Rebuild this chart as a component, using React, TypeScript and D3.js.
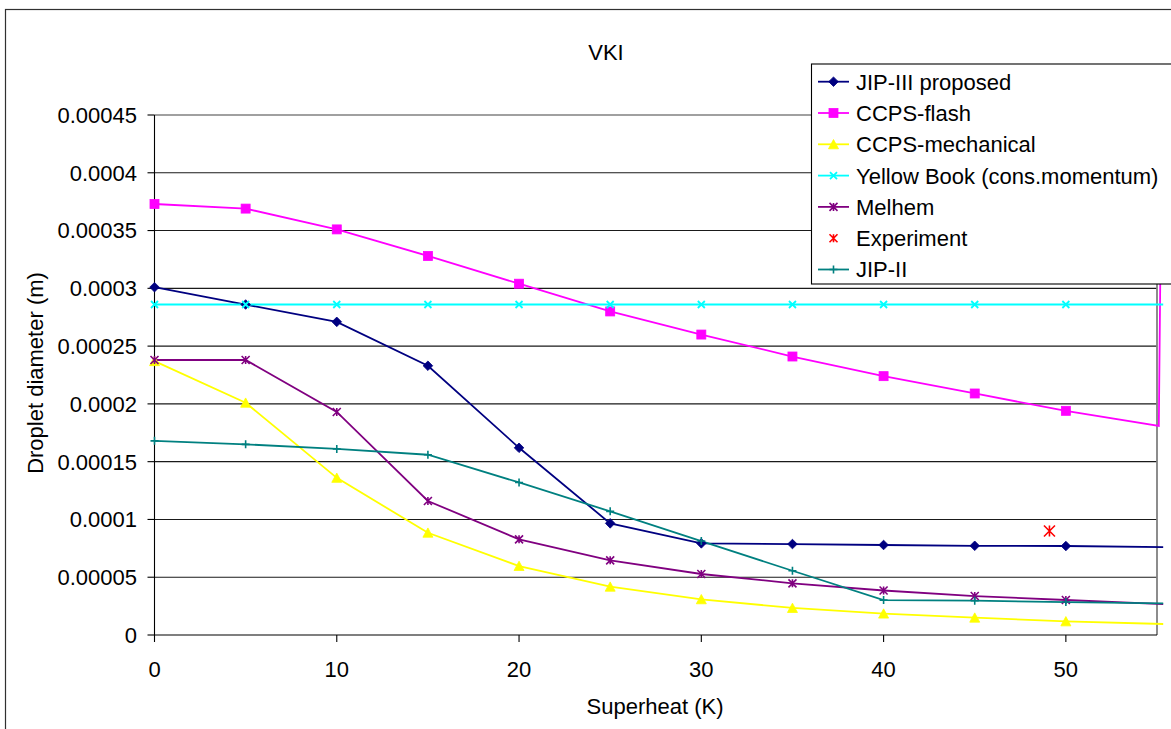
import React from "react";
import * as d3 from "d3";

// Superheat values (K) at which each model was evaluated
const superheat = [0, 5, 10, 15, 20, 25, 30, 35, 40, 45, 50];

// Droplet diameter (m) per model
const jip3Proposed = [0.000301, 0.000286, 0.000271, 0.000233, 0.000162, 0.0000966, 0.0000793, 0.0000787, 0.0000779, 0.0000772, 0.000077];
const ccpsFlash = [0.000373, 0.000369, 0.000351, 0.000328, 0.000304, 0.00028, 0.00026, 0.000241, 0.000224, 0.000209, 0.000194];
const ccpsMechanical = [0.000237, 0.000201, 0.000136, 0.0000885, 0.0000597, 0.0000418, 0.0000309, 0.0000234, 0.0000185, 0.000015, 0.0000118];
const yellowBook = [0.000286, 0.000286, 0.000286, 0.000286, 0.000286, 0.000286, 0.000286, 0.000286, 0.000286, 0.000286, 0.000286];
const melhem = [0.000238, 0.000238, 0.000193, 0.000116, 0.0000828, 0.0000646, 0.0000528, 0.0000447, 0.0000385, 0.0000337, 0.0000303];
const jip2 = [0.000168, 0.000165, 0.000161, 0.000156, 0.000132, 0.000107, 0.0000813, 0.0000556, 0.0000302, 0.0000297, 0.0000285];

// Points past the end of the axis (beyond 55 K)
const tailX = [55.35];
const jip3Tail = [0.0000761];
const ccpsMechTail = [0.0000095];
const yellowBookTail = [0.000286];
const melhemTail = [0.0000268];
const jip2Tail = [0.0000274];
const ccpsFlashTailX = [55.1, 55.3];
const ccpsFlashTail = [0.000181, 0.0005];

// Single measured point
const experimentX = [49.1];
const experimentY = [0.00009];

const yTicks = [0, 0.00005, 0.0001, 0.00015, 0.0002, 0.00025, 0.0003, 0.00035, 0.0004, 0.00045];
const yTickLabels = ["0", "0.00005", "0.0001", "0.00015", "0.0002", "0.00025", "0.0003", "0.00035", "0.0004", "0.00045"];
const xTicks = [0, 10, 20, 30, 40, 50];

type Marker = "diamond" | "square" | "triangle" | "x" | "asterisk" | "plus" | "none";

interface Series {
  name: string;
  color: string;
  marker: Marker;
  xs: number[];
  ys: number[];
  line: boolean;
}

const series: Series[] = [
  { name: "JIP-III proposed", color: "#000080", marker: "diamond", xs: [...superheat, ...tailX], ys: [...jip3Proposed, ...jip3Tail], line: true },
  { name: "CCPS-flash", color: "#FF00FF", marker: "square", xs: [...superheat, ...ccpsFlashTailX], ys: [...ccpsFlash, ...ccpsFlashTail], line: true },
  { name: "CCPS-mechanical", color: "#FFFF00", marker: "triangle", xs: [...superheat, ...tailX], ys: [...ccpsMechanical, ...ccpsMechTail], line: true },
  { name: "Yellow Book (cons.momentum)", color: "#00FFFF", marker: "x", xs: [...superheat, ...tailX], ys: [...yellowBook, ...yellowBookTail], line: true },
  { name: "Melhem", color: "#800080", marker: "asterisk", xs: [...superheat, ...tailX], ys: [...melhem, ...melhemTail], line: true },
  { name: "Experiment", color: "#FF0000", marker: "asterisk", xs: experimentX, ys: experimentY, line: false },
  { name: "JIP-II", color: "#008080", marker: "plus", xs: [...superheat, ...tailX], ys: [...jip2, ...jip2Tail], line: true },
];

const FONT = "'Liberation Sans', Arial, sans-serif";
const FS = 22;

const W = 1171;
const H = 729;
const plot = { left: 154.5, right: 1157, top: 115, bottom: 635 };
const X_MAX = 55;

function MarkerGlyph({ type, color, x, y, big }: { type: Marker; color: string; x: number; y: number; big?: boolean }) {
  const t = `translate(${x},${y})`;
  switch (type) {
    case "diamond":
      return <path transform={t} d="M0,-4.8L4.8,0L0,4.8L-4.8,0Z" fill={color} stroke={color} strokeWidth={0.8} />;
    case "square":
      return <rect transform={t} x={-4.5} y={-4.5} width={9} height={9} fill={color} stroke={color} strokeWidth={0.8} />;
    case "triangle":
      return <path transform={t} d="M0,-4.8L5,4.5L-5,4.5Z" fill={color} stroke={color} strokeWidth={0.8} />;
    case "x":
      return <path transform={t} d="M-3.5,-3.5L3.5,3.5M-3.5,3.5L3.5,-3.5" stroke={color} strokeWidth={1.8} fill="none" />;
    case "plus":
      return <path transform={t} d="M-4,0L4,0M0,-4L0,4" stroke={color} strokeWidth={1.6} fill="none" />;
    case "asterisk": {
      const r = big ? 5.5 : 4;
      return (
        <path
          transform={t}
          d={`M${-r},${-r}L${r},${r}M${-r},${r}L${r},${-r}M0,${-r}L0,${r}`}
          stroke={color}
          strokeWidth={1.6}
          fill="none"
        />
      );
    }
    default:
      return null;
  }
}

export default function App() {
  const x = d3.scaleLinear().domain([0, X_MAX]).range([plot.left, plot.right]);
  const y = d3.scaleLinear().domain([0, 0.00045]).range([plot.bottom, plot.top]);

  const lineGen = d3
    .line<[number, number]>()
    .x((d) => x(d[0]))
    .y((d) => y(d[1]));

  const legend = { x: 811.5, y: 64, rowH: 31.3, firstRow: 81.7 };

  return (
    <svg
      width={W}
      height={H}
      style={{ position: "absolute", left: 0, top: 0, background: "#fff" }}
      fontFamily={FONT}
    >
      <defs>
        <clipPath id="plotClip">
          <rect x={plot.left - 6} y={plot.top} width={1163.5 - plot.left + 6} height={plot.bottom - plot.top + 6} />
        </clipPath>
      </defs>

      {/* chart frame */}
      <rect x={5.5} y={9.5} width={1300} height={900} fill="#fff" stroke="#303030" strokeWidth={1.2} />

      {/* title */}
      <text x={606} y={60} textAnchor="middle" fontSize={FS} fill="#000">
        VKI
      </text>

      {/* horizontal gridlines */}
      {yTicks.slice(1).map((v) => (
        <line
          key={`g${v}`}
          x1={plot.left}
          x2={plot.right}
          y1={y(v)}
          y2={y(v)}
          stroke={v === 0.00045 ? "#808080" : "#1a1a1a"}
          strokeWidth={v === 0.00045 ? 1.6 : 1.1}
        />
      ))}

      {/* plot-area right border */}
      <line x1={plot.right} x2={plot.right} y1={plot.top} y2={plot.bottom} stroke="#808080" strokeWidth={1.8} />

      {/* y axis */}
      <line x1={plot.left} x2={plot.left} y1={plot.top} y2={plot.bottom} stroke="#000" strokeWidth={1.1} />
      {yTicks.map((v, i) => (
        <g key={`yt${v}`}>
          <line x1={plot.left - 7} x2={plot.left} y1={y(v)} y2={y(v)} stroke="#000" strokeWidth={1.1} />
          <text x={137} y={y(v)} dy="0.36em" textAnchor="end" fontSize={FS} fill="#000">
            {yTickLabels[i]}
          </text>
        </g>
      ))}

      {/* x axis */}
      <line x1={plot.left} x2={plot.right} y1={plot.bottom} y2={plot.bottom} stroke="#000" strokeWidth={1.1} />
      {xTicks.map((v) => (
        <g key={`xt${v}`}>
          <line x1={x(v)} x2={x(v)} y1={plot.bottom} y2={plot.bottom + 7} stroke="#000" strokeWidth={1.1} />
          <text x={x(v)} y={677} textAnchor="middle" fontSize={FS} fill="#000">
            {v}
          </text>
        </g>
      ))}

      {/* axis titles */}
      <text x={655} y={714} textAnchor="middle" fontSize={FS} fill="#000">
        Superheat (K)
      </text>
      <text transform="translate(42.5,373) rotate(-90)" textAnchor="middle" fontSize={FS} fill="#000">
        Droplet diameter (m)
      </text>

      {/* series lines */}
      <g clipPath="url(#plotClip)">
        {series
          .filter((s) => s.line)
          .map((s) => (
            <path
              key={`l${s.name}`}
              d={lineGen(s.xs.map((xv, i) => [xv, s.ys[i]] as [number, number])) || ""}
              fill="none"
              stroke={s.color}
              strokeWidth={s.marker === "x" ? 2.2 : 1.8}
            />
          ))}
      </g>

      {/* series markers (only within the axis range) */}
      {series.map((s) =>
        s.xs.map((xv, i) =>
          xv <= X_MAX ? (
            <MarkerGlyph key={`m${s.name}${i}`} type={s.marker} color={s.color} x={x(xv)} y={y(s.ys[i])} big={!s.line} />
          ) : null
        )
      )}

      {/* legend */}
      <rect x={legend.x} y={legend.y} width={400} height={220} fill="#fff" stroke="#000" strokeWidth={1.1} />
      {series.map((s, i) => {
        const cy = legend.firstRow + i * legend.rowH;
        return (
          <g key={`lg${s.name}`}>
            {s.line && <line x1={818} x2={849} y1={cy} y2={cy} stroke={s.color} strokeWidth={1.8} />}
            <MarkerGlyph type={s.marker} color={s.color} x={833.5} y={cy} />
            <text x={856} y={cy} dy="0.36em" fontSize={FS} fill="#000">
              {s.name}
            </text>
          </g>
        );
      })}
    </svg>
  );
}
